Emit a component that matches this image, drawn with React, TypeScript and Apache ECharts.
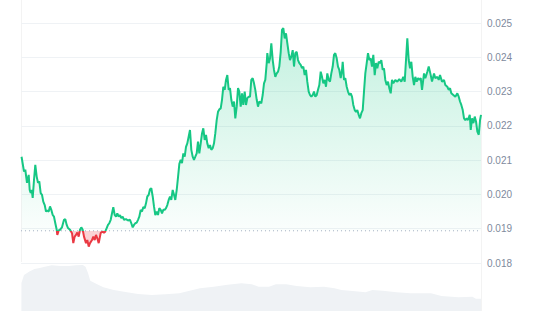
import React, { useEffect, useRef } from "react";
import * as echarts from "echarts";

// price chart: time in hours since start of the 7-day window, price in USD
const hours = [
  0.2,1.10,1.57,2.19,2.81,3.18,3.54,3.91,4.27,4.75,
  5.22,5.73,6.21,6.68,7.19,7.67,8.14,8.66,9.13,9.61,
  10.12,10.59,11.07,11.58,12.05,12.53,13.04,13.26,13.77,14.24,
  14.97,15.70,16.18,16.69,17.17,17.90,18.63,19.10,19.61,20.09,
  20.56,21.07,21.55,22.02,22.53,23.01,23.74,24.21,24.73,25.20,
  25.93,26.41,26.92,27.39,27.87,28.38,29.11,29.84,30.31,30.79,
  31.30,31.77,32.25,32.76,33.24,33.71,34.22,34.70,35.17,35.68,
  36.16,36.63,37.14,37.62,38.35,39.08,39.81,40.28,40.80,41.27,
  41.74,42.26,42.73,43.21,43.72,44.19,44.67,45.18,45.65,46.13,
  46.64,47.11,47.59,48.10,48.57,49.05,49.56,50.04,50.51,51.02,
  51.50,51.97,52.48,52.96,53.43,53.94,54.42,54.89,55.40,55.88,
  56.35,56.87,57.34,57.83,58.33,58.80,59.28,59.79,60.26,60.74,
  61.25,61.72,62.20,62.71,63.18,63.66,64.17,64.64,65.12,65.63,
  66.11,66.58,67.09,67.57,68.04,68.55,69.03,69.50,70.01,70.49,
  70.96,71.47,71.95,72.42,72.94,73.41,73.89,74.40,74.87,75.35,
  75.86,76.33,76.81,77.32,77.80,78.27,78.78,79.26,79.73,80.24,
  80.72,81.19,81.70,82.18,82.65,83.16,83.64,84.11,84.62,85.10,
  85.57,86.09,86.56,87.03,87.76,88.27,88.75,89.22,89.74,89.96,
  90.47,90.95,91.42,91.93,92.40,92.88,93.39,93.87,94.34,94.85,
  95.32,95.80,96.31,96.78,97.26,97.77,98.24,98.72,99.23,99.71,
  100.18,100.69,101.17,101.64,102.15,102.63,103.10,103.61,104.09,104.56,
  105.07,105.55,106.02,106.54,107.01,107.48,108.00,108.47,108.95,109.46,
  109.93,110.41,110.92,111.39,111.87,112.38,112.85,113.33,113.84,114.31,
  114.79,115.30,115.77,116.25,116.76,117.24,117.49,117.97,118.44,118.95,
  119.43,119.90,120.41,120.89,121.36,121.88,122.35,122.82,123.34,123.81,
  124.29,124.80,125.27,125.75,126.26,126.73,127.21,127.72,128.19,128.67,
  129.18,129.65,130.13,130.64,131.11,131.59,132.10,132.57,133.05,133.56,
  134.04,134.51,135.02,135.50,135.97,136.70,137.43,138.16,138.89,139.62,
  140.14,140.61,141.09,141.60,142.08,142.55,143.06,143.54,144.01,144.52,
  145.00,145.47,145.99,146.46,147.19,147.67,148.40,148.91,149.64,150.11,
  150.84,151.32,152.05,152.56,153.03,153.76,154.49,154.97,155.70,156.21,
  156.69,157.16,157.89,158.62,159.35,159.86,160.34,160.81,161.33,161.80,
  162.28,162.79,163.26,163.89,164.25,164.73,165.22,165.71,166.20,166.67,
  167.18,167.66,168.0,
];

const prices = [
  0.02110,0.02067,0.02072,0.02034,0.02057,0.02013,0.02004,0.02013,0.01990,0.02042,
  0.02086,0.02052,0.02034,0.02038,0.02004,0.01999,0.01979,0.01969,0.01950,0.01953,
  0.01950,0.01965,0.01955,0.01940,0.01935,0.01916,0.01897,0.01882,0.01895,0.01897,
  0.01904,0.01926,0.01928,0.01911,0.01902,0.01897,0.01887,0.01858,0.01877,0.01882,
  0.01889,0.01877,0.01897,0.01904,0.01897,0.01877,0.01858,0.01867,0.01848,0.01858,
  0.01867,0.01877,0.01867,0.01882,0.01872,0.01858,0.01888,0.01892,0.01888,0.01892,
  0.01902,0.01911,0.01916,0.01926,0.01945,0.01963,0.01940,0.01935,0.01945,0.01935,
  0.01940,0.01931,0.01935,0.01926,0.01928,0.01924,0.01926,0.01916,0.01904,0.01911,
  0.01916,0.01918,0.01926,0.01935,0.01955,0.01950,0.01963,0.01960,0.01974,0.01994,
  0.01999,0.02015,0.02018,0.01994,0.01965,0.01940,0.01950,0.01940,0.01960,0.01955,
  0.01945,0.01955,0.01955,0.01960,0.01969,0.01984,0.01994,0.01984,0.02013,0.01999,
  0.01984,0.02013,0.02050,0.02089,0.02101,0.02091,0.02120,0.02110,0.02139,0.02149,
  0.02169,0.02188,0.02130,0.02110,0.02101,0.02110,0.02120,0.02154,0.02120,0.02149,
  0.02178,0.02193,0.02159,0.02174,0.02149,0.02135,0.02144,0.02130,0.02135,0.02149,
  0.02178,0.02217,0.02241,0.02248,0.02251,0.02276,0.02314,0.02305,0.02334,0.02348,
  0.02305,0.02310,0.02276,0.02256,0.02271,0.02222,0.02256,0.02310,0.02300,0.02256,
  0.02295,0.02261,0.02300,0.02261,0.02281,0.02285,0.02285,0.02334,0.02339,0.02324,
  0.02305,0.02276,0.02256,0.02271,0.02266,0.02290,0.02324,0.02334,0.02383,0.02412,
  0.02383,0.02397,0.02441,0.02392,0.02363,0.02343,0.02353,0.02358,0.02373,0.02416,
  0.02480,0.02485,0.02455,0.02470,0.02441,0.02412,0.02392,0.02402,0.02421,0.02373,
  0.02412,0.02416,0.02392,0.02383,0.02378,0.02368,0.02373,0.02348,0.02363,0.02329,
  0.02300,0.02290,0.02285,0.02290,0.02300,0.02285,0.02290,0.02305,0.02319,0.02358,
  0.02343,0.02324,0.02334,0.02314,0.02353,0.02334,0.02329,0.02353,0.02373,0.02407,
  0.02412,0.02397,0.02373,0.02363,0.02339,0.02363,0.02387,0.02334,0.02339,0.02314,
  0.02300,0.02290,0.02295,0.02285,0.02261,0.02246,0.02241,0.02246,0.02232,0.02222,
  0.02237,0.02246,0.02300,0.02353,0.02383,0.02412,0.02392,0.02397,0.02373,0.02407,
  0.02348,0.02383,0.02368,0.02387,0.02383,0.02392,0.02363,0.02368,0.02334,0.02319,
  0.02329,0.02310,0.02295,0.02334,0.02324,0.02334,0.02329,0.02336,0.02329,0.02343,
  0.02329,0.02392,0.02455,0.02392,0.02368,0.02387,0.02343,0.02319,0.02343,0.02329,
  0.02339,0.02334,0.02339,0.02305,0.02353,0.02339,0.02358,0.02373,0.02348,0.02329,
  0.02353,0.02339,0.02343,0.02334,0.02348,0.02329,0.02334,0.02319,0.02314,0.02305,
  0.02310,0.02295,0.02290,0.02285,0.02295,0.02285,0.02271,0.02261,0.02246,0.02222,
  0.02217,0.02222,0.02217,0.02232,0.02188,0.02222,0.02208,0.02227,0.02212,0.02183,
  0.02174,0.02217,0.02232,
];

// reference (opening) price shown as the dotted baseline
const basePrice = 0.01894;

// trading volume (millions) over the same window
const volHours = [
  0.15,1.10,2.92,4.93,6.83,8.69,11.21,14.35,17.53,20.05,
  22.57,23.56,24.47,25.31,27.61,30.09,33.89,37.62,42.73,47.73,
  52.77,57.81,61.61,65.37,70.41,75.45,80.49,84.26,86.78,90.57,
  93.09,96.86,100.66,105.66,110.70,114.50,117.02,122.06,125.82,128.34,
  132.14,137.18,142.18,149.74,153.54,159.82,164.86,166.14,168.0,
];
const volumes = [
  28,36,39.3,42,43,44.3,45.7,45,45,45.7,
  46,44.3,38,30.3,27,23.7,21,19.3,17,16,
  16.7,17.7,20.3,22.7,24.3,26.3,27.7,26.7,24.3,24.3,
  26.7,26.7,25,23.7,24.3,22.7,21,19.7,18.7,21,
  20.3,18.7,17.7,17.7,15,13.7,14.3,12.3,12.3,
];

const yTicks = { min: 0.017, max: 0.025, interval: 0.001 };
const xRange = { min: 0, max: 168 };

const GREEN = "#16c784";
const RED = "#ea3943";

export default function App() {
  const ref = useRef<HTMLDivElement>(null);

  useEffect(() => {
    document.body.style.margin = "0";
    if (!ref.current) return;
    const chart = echarts.init(ref.current, null, { renderer: "svg" });

    const n = Math.min(hours.length, prices.length);
    const priceData = [] as number[][];
    for (let i = 0; i < n; i++) priceData.push([hours[i], prices[i]]);
    const m = Math.min(volHours.length, volumes.length);
    const volData = [] as number[][];
    for (let i = 0; i < m; i++) volData.push([volHours[i], volumes[i]]);
    const baseData = [
      [xRange.min, basePrice],
      [xRange.max, basePrice],
    ];

    const gridTop = 23;
    const gridBottom = 22.7;
    const H = 320;
    const gridH = H - gridTop - gridBottom;
    const baseY =
      gridTop + ((yTicks.max - basePrice) / (yTicks.max - yTicks.min)) * gridH;
    const bOff = baseY / H;
    const pMax = Math.max(...prices.slice(0, n));
    const topY =
      gridTop + ((yTicks.max - pMax) / (yTicks.max - yTicks.min)) * gridH;
    const tOff = topY / H;

    const lineGrad = new echarts.graphic.LinearGradient(
      0, 0, 0, H,
      [
        { offset: 0, color: GREEN },
        { offset: bOff, color: GREEN },
        { offset: bOff, color: RED },
        { offset: 1, color: RED },
      ],
      true
    );
    const areaGrad = new echarts.graphic.LinearGradient(
      0, 0, 0, H,
      [
        { offset: 0, color: "rgba(22,199,132,0.26)" },
        { offset: tOff, color: "rgba(22,199,132,0.26)" },
        { offset: bOff, color: "rgba(22,199,132,0.02)" },
        { offset: bOff, color: "rgba(234,57,67,0.22)" },
        { offset: 1, color: "rgba(234,57,67,0.3)" },
      ],
      true
    );

    chart.setOption({
      animation: false,
      grid: [
        { left: 21, right: 59, top: gridTop, bottom: gridBottom },
        { left: 21, right: 59, top: 261, bottom: 9 },
      ],
      xAxis: [
        { type: "value", gridIndex: 0, min: xRange.min, max: xRange.max, show: false },
        { type: "value", gridIndex: 1, min: xRange.min, max: xRange.max, show: false },
      ],
      yAxis: [
        {
          type: "value",
          gridIndex: 0,
          position: "right",
          min: yTicks.min,
          max: yTicks.max,
          interval: yTicks.interval,
          axisLine: { show: false },
          axisTick: { show: false },
          axisLabel: {
            showMinLabel: false,
            color: "#808a9d",
            fontSize: 10,
            fontFamily: "Liberation Sans",
            margin: 6,
            formatter: (v: number) => v.toFixed(3),
          },
          splitLine: {
            show: true,
            showMinLine: false,
            lineStyle: { color: "#eff2f5", width: 1 },
          },
        },
        { type: "value", gridIndex: 1, min: 0, max: 50, show: false },
      ],
      graphic: [
        {
          type: "line",
          shape: { x1: 21.5, y1: 0, x2: 21.5, y2: 262 },
          style: { stroke: "#f3f3f3", lineWidth: 1 },
          z: 0,
        },
        {
          type: "line",
          shape: { x1: 481.5, y1: 0, x2: 481.5, y2: 311 },
          style: { stroke: "#f3f3f3", lineWidth: 1 },
          z: 0,
        },
      ],
      series: [
        {
          type: "line",
          xAxisIndex: 1,
          yAxisIndex: 1,
          data: volData,
          showSymbol: false,
          symbol: "none",
          lineStyle: { width: 0 },
          areaStyle: { color: "#eff2f5", opacity: 1 },
          z: 1,
        },
        {
          type: "line",
          xAxisIndex: 0,
          yAxisIndex: 0,
          data: baseData,
          showSymbol: false,
          symbol: "none",
          silent: true,
          lineStyle: { color: "#a6b0c3", type: [1, 3], width: 1 },
          z: 2,
        },
        {
          type: "line",
          xAxisIndex: 0,
          yAxisIndex: 0,
          data: priceData,
          showSymbol: false,
          symbol: "none",
          lineStyle: { width: 2, color: lineGrad },
          areaStyle: { origin: basePrice, color: areaGrad, opacity: 1 },
          z: 3,
        },
      ],
    });

    return () => chart.dispose();
  }, []);

  return <div ref={ref} style={{ width: 540, height: 320 }} />;
}
